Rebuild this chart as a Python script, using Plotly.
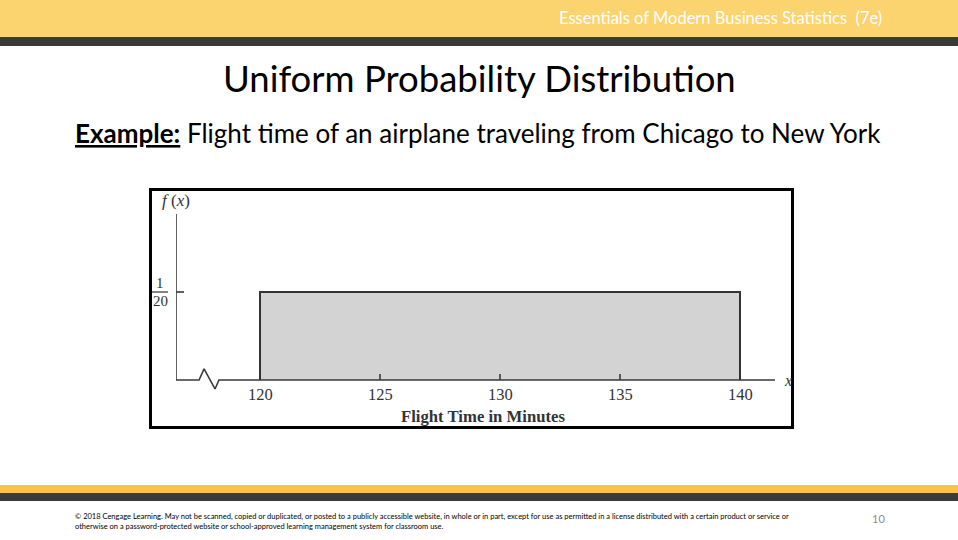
import plotly.graph_objects as go

# ---- data ----
a_min = 120
b_max = 140
density = 1 / 20
tick_values = [120, 125, 130, 135, 140]
tick_labels = ["120", "125", "130", "135", "140"]

W, H = 958, 540

def px(xp):
    return xp / W

def py(yp):
    return 1 - yp / H

# axis scale: pixel 176 -> 116.5, 24 px per minute ; y: pixel 380 -> 0, 1760 px per unit
x0_val, x1_val = 116.5, 141.5
plot_left, plot_right = 176, 776
y_top_px, y_bot_px = 210, 392
y_top_val = (380 - y_top_px) / 1760
y_bot_val = -(y_bot_px - 380) / 1760

axis_color = "#3a3a3a"
serif = "Liberation Serif"
sans = "Lato"

fig = go.Figure()

# uniform density rectangle
fig.add_trace(go.Scatter(
    x=[a_min, a_min, b_max, b_max],
    y=[0, density, density, 0],
    mode="lines", fill="toself", fillcolor="#d3d3d3",
    line=dict(color="#333333", width=2), hoverinfo="skip"))

# x axis with break mark
x_end = 141.46
fig.add_trace(go.Scatter(
    x=[x0_val, 117.46, 117.67, 118.125, 118.29, x_end],
    y=[0, 0, 0.0063, -0.0051, 0, 0],
    mode="lines", line=dict(color=axis_color, width=1.6), hoverinfo="skip"))

# y axis
y_axis_top = (380 - 214) / 1760
fig.add_trace(go.Scatter(
    x=[x0_val, x0_val, None, x0_val, x0_val + 8 / 24],
    y=[0, y_axis_top, None, density, density],
    mode="lines", line=dict(color=axis_color, width=1.6), hoverinfo="skip"))

# tick marks
tx, ty = [], []
for t in tick_values[1:-1]:
    tx += [t, t, None]
    ty += [0, 6 / 1760, None]
fig.add_trace(go.Scatter(x=tx, y=ty, mode="lines",
                         line=dict(color=axis_color, width=1.6), hoverinfo="skip"))

ann = []
for v, lab in zip(tick_values, tick_labels):
    ann.append(dict(x=v, y=0, xref="x", yref="y", text=lab, showarrow=False,
                    yanchor="top", yshift=-3,
                    font=dict(family=serif, size=16.5, color="#333333")))

fig.update_layout(
    width=W, height=H,
    margin=dict(l=0, r=0, t=0, b=0),
    paper_bgcolor="white", plot_bgcolor="rgba(0,0,0,0)",
    showlegend=False, hovermode=False,
    xaxis=dict(domain=[px(plot_left), px(plot_right)], range=[x0_val, x1_val],
               showgrid=False, zeroline=False, showline=False,
               showticklabels=False, fixedrange=True),
    yaxis=dict(domain=[py(y_bot_px), py(y_top_px)], range=[y_bot_val, y_top_val],
               showgrid=False, zeroline=False, showline=False,
               showticklabels=False, fixedrange=True),
)

shapes = [
    # header bands
    dict(type="rect", xref="paper", yref="paper", x0=0, x1=1, y0=py(37), y1=py(0),
         fillcolor="#fbd46f", line=dict(width=0), layer="below"),
    dict(type="rect", xref="paper", yref="paper", x0=0, x1=1, y0=py(46), y1=py(37),
         fillcolor="#3a3a3a", line=dict(width=0), layer="below"),
    # footer bands
    dict(type="rect", xref="paper", yref="paper", x0=0, x1=1, y0=py(493), y1=py(485),
         fillcolor="#f8c446", line=dict(width=0), layer="below"),
    dict(type="rect", xref="paper", yref="paper", x0=0, x1=1, y0=py(501), y1=py(493),
         fillcolor="#3a3a3a", line=dict(width=0), layer="below"),
    # chart frame
    dict(type="rect", xref="paper", yref="paper", x0=px(150.5), x1=px(792.5),
         y0=py(427.5), y1=py(189.5), line=dict(color="black", width=3),
         fillcolor="rgba(0,0,0,0)", layer="above"),
    # fraction bar for 1/20
    dict(type="line", xref="paper", yref="paper", x0=px(152), x1=px(168),
         y0=py(292), y1=py(292), line=dict(color="#333333", width=1.2)),
]

ann += [
    dict(x=px(884), y=py(18), xref="paper", yref="paper", xanchor="right", yanchor="middle",
         text="Essentials of Modern Business Statistics  (7e)", showarrow=False,
         font=dict(family=sans, size=16.5, color="white")),
    dict(x=px(479), y=py(78), xref="paper", yref="paper", xanchor="center", yanchor="middle",
         text="Uniform Probability Distribution", showarrow=False,
         font=dict(family=sans, size=36.5, color="black")),
    dict(x=px(73), y=py(133), xref="paper", yref="paper", xanchor="left", yanchor="middle",
         text="<b><span style='text-decoration:underline'>Example:</span></b> Flight time of an airplane traveling from Chicago to New York",
         showarrow=False, font=dict(family=sans, size=26, color="black")),
    dict(x=px(176), y=py(200), xref="paper", yref="paper", xanchor="center", yanchor="middle",
         text="<i>f</i> (<i>x</i>)", showarrow=False,
         font=dict(family=serif, size=17, color="#333333")),
    dict(x=px(160), y=py(283), xref="paper", yref="paper", xanchor="center", yanchor="middle",
         text="1", showarrow=False, font=dict(family=serif, size=15, color="#333333")),
    dict(x=px(160), y=py(301), xref="paper", yref="paper", xanchor="center", yanchor="middle",
         text="20", showarrow=False, font=dict(family=serif, size=15, color="#333333")),
    dict(x=px(788), y=py(380), xref="paper", yref="paper", xanchor="center", yanchor="middle",
         text="<i>x</i>", showarrow=False, font=dict(family=serif, size=16, color="#333333")),
    dict(x=px(483), y=py(416), xref="paper", yref="paper", xanchor="center", yanchor="middle",
         text="<b>Flight Time in Minutes</b>", showarrow=False,
         font=dict(family=serif, size=16.7, color="#333333")),
    dict(x=px(73), y=py(521), xref="paper", yref="paper", xanchor="left", yanchor="middle",
         align="left",
         text="© 2018 Cengage Learning. May not be scanned, copied or duplicated, or posted to a publicly accessible website, in whole or in part, except for use as permitted in a license distributed with a certain product or service or<br>otherwise on a password-protected website or school-approved learning management system for classroom use.",
         showarrow=False, font=dict(family=sans, size=7.5, color="black")),
    dict(x=px(878), y=py(518), xref="paper", yref="paper", xanchor="center", yanchor="middle",
         text="10", showarrow=False, font=dict(family=sans, size=11, color="#8c8c8c")),
]

fig.update_layout(shapes=shapes, annotations=ann)
fig.write_html("out.html", config={"displayModeBar": False},
               post_script="document.body.style.margin='0';document.body.style.overflow='hidden';")
